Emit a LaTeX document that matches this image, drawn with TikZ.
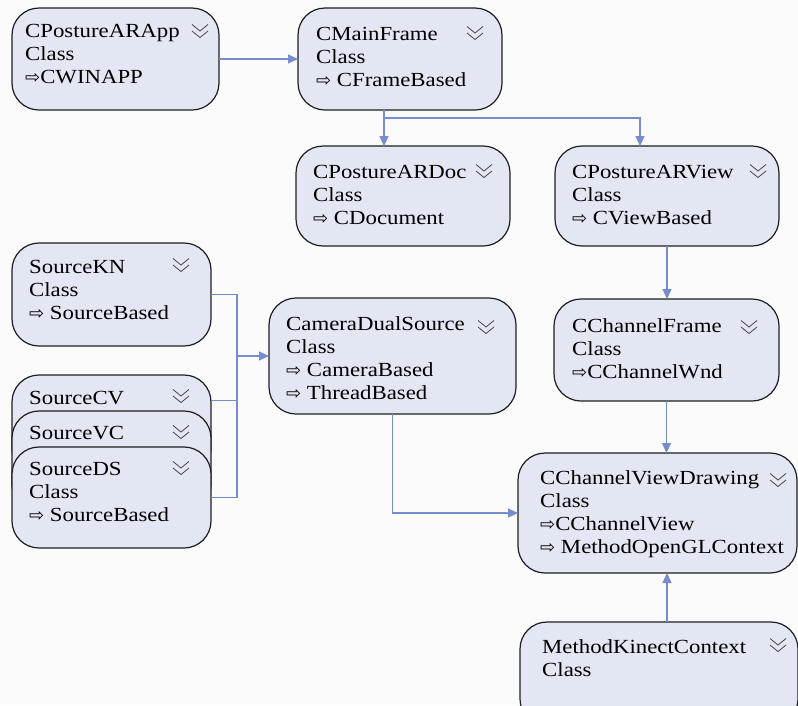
\documentclass[tikz,border=0pt]{standalone}
\usepackage{fontspec}
\setmainfont{Liberation Serif}[FakeStretch=1.14]
\newfontfamily\arrowfont{DejaVu Sans}
\usetikzlibrary{arrows.meta}

\definecolor{boxfill}{RGB}{227,231,243}
\definecolor{boxline}{RGB}{30,30,30}
\definecolor{linkblue}{RGB}{118,140,204}
\definecolor{paper}{RGB}{251,251,251}
\definecolor{chevgrey}{RGB}{70,70,70}

% inheritance marker and stacked text lines
\newcommand\inh{{\arrowfont\fontsize{18}{18}\selectfont ⇨}}
\newcommand\clines[1]{\begin{tabular}[t]{@{}l@{}}#1\end{tabular}}

\begin{document}
\begin{tikzpicture}[x=1pt,y=-1pt,
  classbox/.style={draw=boxline, fill=boxfill, line width=1.2pt,
    rounded corners=27pt, inner sep=0pt, outer sep=0pt},
  classtext/.style={anchor=base west, inner sep=0pt,
    font=\fontsize{20}{23}\selectfont},
  link/.style={draw=linkblue, line width=1.3pt},
  conn/.style={link, -{Triangle[length=10pt,width=9pt]}},
  chev/.pic={\draw[chevgrey, line width=0.8pt]
    (-8,-6.5) -- (0,0) -- (8,-6.5) (-8,0) -- (0,6.5) -- (8,0);}
]
\useasboundingbox (0,0) rectangle (798,705);
\clip (0,0) rectangle (798,705);
\fill[paper] (0,0) rectangle (798,705);

% ---- class boxes ----
\node[classbox, minimum width=207pt, minimum height=102pt] (app)  at (115.5,59) {};
\node[classbox, minimum width=204pt, minimum height=102pt] (main) at (400,59) {};
\node[classbox, minimum width=214pt, minimum height=100pt] (doc)  at (403,196) {};
\node[classbox, minimum width=224pt, minimum height=100pt] (view) at (667,196) {};
\node[classbox, minimum width=199pt, minimum height=103pt] (kn)   at (111.5,294.5) {};
\node[classbox, minimum width=199pt, minimum height=101pt] (cv)   at (111.5,425.5) {};
\node[classbox, minimum width=199pt, minimum height=101pt] (vc)   at (111.5,461.5) {};
\node[classbox, minimum width=199pt, minimum height=101pt] (ds)   at (111.5,497.5) {};
\node[classbox, minimum width=247pt, minimum height=116pt] (cam)  at (392.5,356) {};
\node[classbox, minimum width=225pt, minimum height=102pt] (cf)   at (666.5,350) {};
\node[classbox, minimum width=279pt, minimum height=120pt] (vd)   at (657.5,513) {};
\node[classbox, minimum width=278pt, minimum height=104pt] (kin)  at (659,674) {};

% ---- box texts ----
\node[classtext] (appT)  at (25,37)  {\clines{CPostureARApp\\Class\\\inh CWINAPP}};
\node[classtext] (mainT) at (316,40) {\clines{CMainFrame\\Class\\\inh\ CFrameBased}};
\node[classtext] (docT)  at (313,178) {\clines{CPostureARDoc\\Class\\\inh\ CDocument}};
\node[classtext] (viewT) at (572,178) {\clines{CPostureARView\\Class\\\inh\ CViewBased}};
\node[classtext] (knT)   at (29,273) {\clines{SourceKN\\Class\\\inh\ SourceBased}};
\node[classtext] (cvT)   at (29,404) {SourceCV};
\node[classtext] (vcT)   at (29,439) {SourceVC};
\node[classtext] (dsT)   at (29,475) {\clines{SourceDS\\Class\\\inh\ SourceBased}};
\node[classtext] (camT)  at (286,330) {\clines{CameraDualSource\\Class\\\inh\ CameraBased\\\inh\ ThreadBased}};
\node[classtext] (cfT)   at (572,332) {\clines{CChannelFrame\\Class\\\inh CChannelWnd}};
\node[classtext] (vdT)   at (540,484) {\clines{CChannelViewDrawing\\Class\\\inh CChannelView\\\inh\ MethodOpenGLContext}};
\node[classtext] (kinT)  at (542,653) {\clines{MethodKinectContext\\Class}};

% ---- collapse chevrons ----
\pic at (200,31)  {chev};
\pic at (475,33)  {chev};
\pic at (484,171) {chev};
\pic at (758,171) {chev};
\pic at (181,265) {chev};
\pic at (181,396) {chev};
\pic at (181,432) {chev};
\pic at (181,468) {chev};
\pic at (486,327) {chev};
\pic at (749,327) {chev};
\pic at (778,480) {chev};
\pic at (778,645) {chev};

% ---- connectors ----
\draw[conn] (app.east) -- (main.west);

\coordinate (mfout) at ([xshift=-16pt]main.south);
\coordinate (viewin) at ([xshift=-27pt]view.north);
\draw[conn] (mfout) -- (mfout |- doc.north);
\draw[conn] (mfout) -- ++(0,8) -| (viewin);

\draw[conn] (view.south) -- (view.south |- cf.north);
\coordinate (cfout) at (cf.south);
\draw[conn] (cfout) -- (cfout |- vd.north);
\coordinate (kinout) at ([xshift=8pt]kin.north);
\draw[conn] (kinout) -- (kinout |- vd.south);

% source bus into the dual source
\coordinate (busT) at (237,294.5);
\coordinate (busB) at (237,497.5);
\coordinate (cvport) at ([yshift=25pt]cv.east);
\draw[link] (kn.east) -- (busT) -- (busB) -- (ds.east);
\draw[link] (cvport) -- (cvport -| busT);
\draw[conn] (cam.west -| busT) -- (cam.west);

\draw[conn] (cam.south) |- (vd.west);
\end{tikzpicture}
\end{document}
